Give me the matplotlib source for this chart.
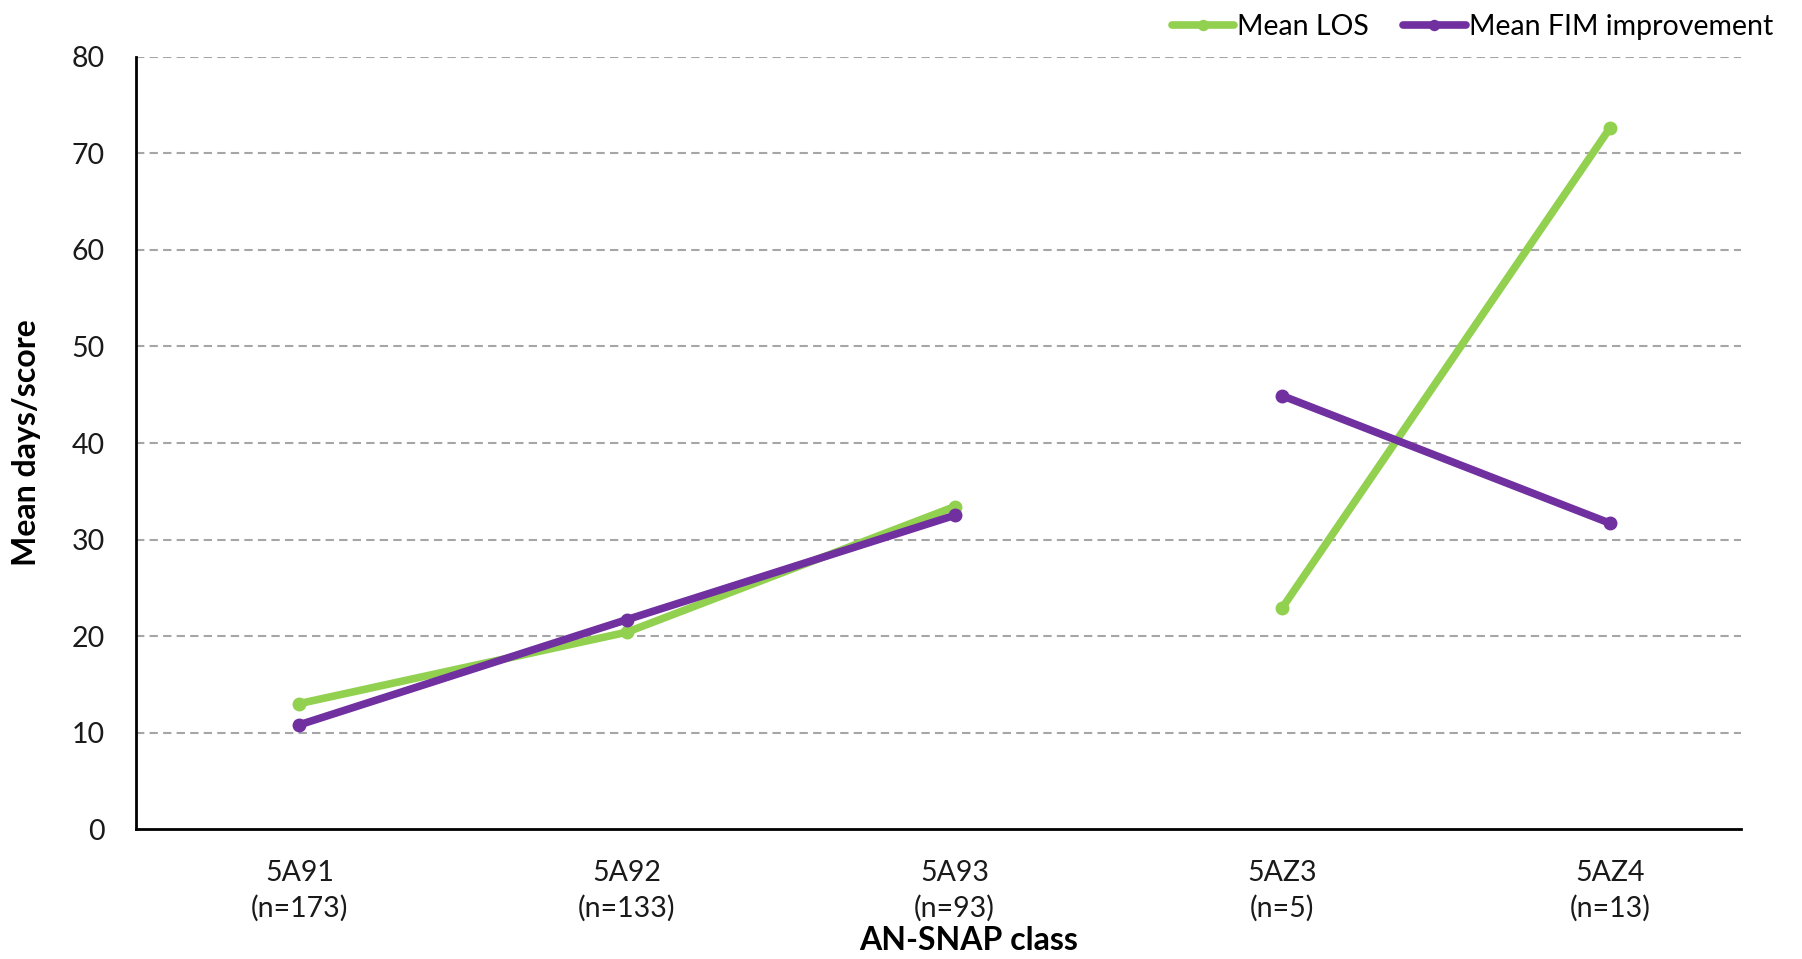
import numpy as np
import matplotlib
matplotlib.use("Agg")
import matplotlib.pyplot as plt

# Datos
categories = ["5A91", "5A92", "5A93", "5AZ3", "5AZ4"]
counts = [173, 133, 93, 5, 13]
mean_los = [13.0, 20.4, 33.4, 22.9, 72.6]
mean_fim = [10.8, 21.7, 32.5, 44.9, 31.7]
# Los dos tramos de línea no se unen entre 5A93 y 5AZ3
segments = [[0, 1, 2], [3, 4]]

GREEN = "#92D050"
PURPLE = "#7030A0"

plt.rcParams["font.family"] = ["Lato", "DejaVu Sans"]

fig = plt.figure(figsize=(18.02, 9.59), dpi=100)
ax = fig.add_axes([0.0752, 0.1355, 0.8908, 0.8051])

x = np.arange(len(categories))
for series, color, label in [(mean_los, GREEN, "Mean LOS"),
                             (mean_fim, PURPLE, "Mean FIM improvement")]:
    vals = np.array(series)
    for i, seg in enumerate(segments):
        ax.plot(x[seg], vals[seg], color=color, lw=5.5, marker="o", ms=9,
                solid_capstyle="round", label=label if i == 0 else None,
                zorder=3)

ax.set_xlim(-0.5, 4.40)
ax.set_ylim(0, 80)
ax.set_yticks(range(0, 81, 10))
ax.set_xticks(x)
ax.set_xticklabels([f"{c}\n(n={n})" for c, n in zip(categories, counts)],
                   linespacing=1.4)

for yv in range(10, 81, 10):
    ax.axhline(yv, color="#A6A6A6", lw=1.5, ls=(0, (4, 2.5)), zorder=1)

for s in ["top", "right"]:
    ax.spines[s].set_visible(False)
for s in ["left", "bottom"]:
    ax.spines[s].set_linewidth(2)
    ax.spines[s].set_color("black")

ax.tick_params(axis="both", length=0, labelsize=20.5, colors="#1a1a1a")
ax.tick_params(axis="y", pad=22)
ax.tick_params(axis="x", pad=22)

ax.set_ylabel("Mean days/score", fontsize=23, fontweight="bold")
ax.yaxis.set_label_coords(-0.059, 0.5)
ax.set_xlabel("AN-SNAP class", fontsize=23, fontweight="bold", labelpad=0)
ax.xaxis.set_label_coords(0.519, -0.125)

fig.legend(loc="upper right", bbox_to_anchor=(0.998, 1.012), ncol=2,
           frameon=False, fontsize=20.5, handlelength=2.2, handletextpad=0.1,
           columnspacing=1.2, markerscale=0.8)

fig.savefig("out.png", dpi=100)
